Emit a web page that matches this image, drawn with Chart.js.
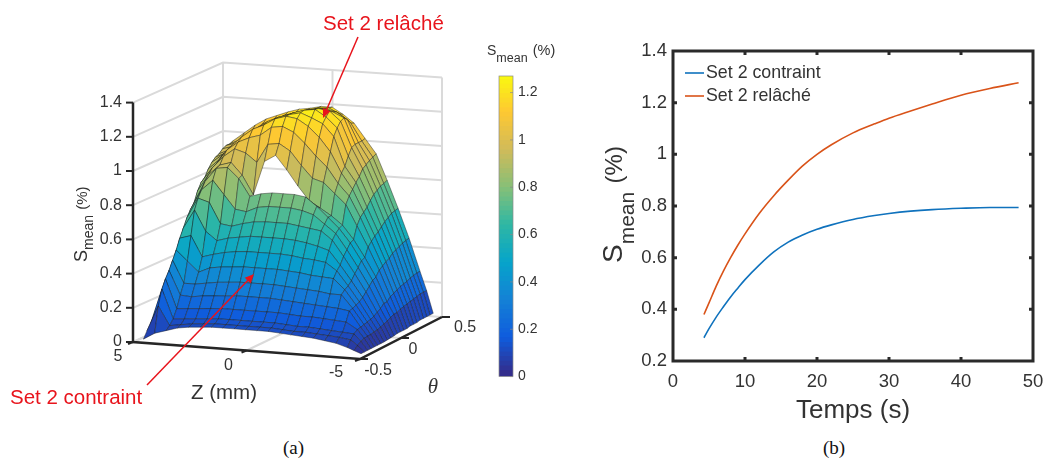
<!DOCTYPE html>
<html>
<head>
<meta charset="utf-8">
<script src="https://cdn.jsdelivr.net/npm/chart.js@4"></script>
<style>
  html, body { margin: 0; padding: 0; background: #fff; }
  #page { position: relative; width: 1048px; height: 462px; overflow: hidden; }
  canvas { position: absolute; }
  .cap { position: absolute; top: 437px; font: 19px "Liberation Serif", serif; color: #111; }
</style>
</head>
<body>
<div id="page">
  <canvas id="surfaceChart" width="490" height="430" style="left:0;top:0"></canvas>
  <canvas id="colorbarChart" width="90" height="354" style="left:480px;top:36px"></canvas>
  <canvas id="lineChart" width="458" height="400" style="left:590px;top:30px"></canvas>
  <div class="cap" style="left:283px">(a)</div>
  <div class="cap" style="left:823px">(b)</div>
</div>
<script>
const FONT = '"Liberation Sans", Arial, sans-serif';
const INK = "#333";

// panel (b)
const times = [4.3, 5, 6, 7, 8, 9, 10, 12, 14, 16, 18, 20, 22, 25, 28, 30, 33, 36, 40, 44, 48];
const contraint = [0.29, 0.325, 0.37, 0.41, 0.448, 0.482, 0.515, 0.572, 0.622, 0.66, 0.688, 0.71, 0.727, 0.748, 0.763, 0.771, 0.78, 0.786, 0.791, 0.794, 0.794];
const relache = [0.38, 0.425, 0.49, 0.548, 0.6, 0.648, 0.692, 0.772, 0.84, 0.9, 0.955, 1.0, 1.037, 1.083, 1.118, 1.14, 1.168, 1.195, 1.229, 1.255, 1.277];
const xTicksB = [0, 10, 20, 30, 40, 50];
const yTicksB = [0.2, 0.4, 0.6, 0.8, 1, 1.2, 1.4];

// panel (a)
const zValues = [4.7, 4.2, 3.7, 3.2, 2.7, 2.2, 1.7, 1.2, 0.7, 0.2, -0.3, -0.8, -1.3, -1.8, -2.3, -2.8, -3.3, -3.8, -4.3, -4.6, -4.9];
const thetaValues = [-0.46, -0.42, -0.38, -0.34, -0.3, -0.26, -0.22, -0.18, -0.14, -0.1, -0.06, -0.02, 0.02, 0.06, 0.1, 0.14, 0.18, 0.22, 0.26, 0.3, 0.34, 0.38, 0.42];
const surfaceS = [
  [.01,.05,.07,.09,.10,.105,.11,.11,.11,.11,.11,.11,.105,.10,.095,.09,.08,.07,.05,.035,.02],
  [.05,.20,.09,.10,.11,.115,.12,.12,.12,.12,.12,.12,.115,.11,.11,.105,.10,.095,.085,.055,.02],
  [.08,.29,.12,.125,.13,.135,.14,.14,.14,.14,.14,.14,.135,.13,.13,.125,.12,.115,.11,.07,.02],
  [.12,.34,.17,.175,.18,.185,.19,.19,.19,.19,.19,.19,.185,.18,.18,.175,.17,.165,.126,.077,.02],
  [.16,.38,.24,.235,.245,.25,.255,.26,.26,.26,.26,.255,.25,.245,.24,.235,.23,.22,.13,.08,.02],
  [.20,.43,.30,.30,.31,.32,.325,.33,.33,.33,.33,.325,.32,.315,.31,.30,.30,.225,.135,.08,.02],
  [.23,.48,.42,.36,.39,.40,.405,.41,.41,.41,.41,.405,.40,.39,.385,.38,.32,.235,.14,.085,.02],
  [.26,.54,.56,.44,.46,.475,.485,.49,.49,.49,.49,.485,.475,.47,.46,.415,.333,.244,.146,.088,.02],
  [.29,.59,.70,.58,.53,.55,.56,.57,.57,.57,.57,.565,.555,.54,.52,.44,.352,.259,.154,.094,.022],
  [.31,.64,.76,.74,.62,.61,.63,.645,.65,.65,.65,.64,.63,.62,.57,.48,.384,.282,.168,.102,.024],
  [.33,.68,.80,.86,.78,.70,.69,.72,.73,.73,.73,.72,.70,.65,.60,.51,.41,.305,.18,.11,.026],
  [.35,.71,.84,.92,.93,.87,.77,.79,.80,.80,.80,.79,.74,.68,.62,.54,.44,.33,.20,.12,.03],
  [.37,.77,.87,.93,.95,.88,.77,.97,1.01,.93,.84,.76,.72,.68,.63,.55,.45,.34,.20,.13,.03],
  [.38,.81,.90,.97,1.02,1.0,.95,1.06,1.07,1.03,.95,.88,.86,.80,.74,.62,.50,.37,.22,.13,.03],
  [.39,.83,.91,1.0,1.05,1.08,1.10,1.15,1.16,1.13,1.07,1.0,.94,.85,.78,.66,.525,.385,.23,.14,.03],
  [.40,.87,.93,1.01,1.07,1.12,1.15,1.19,1.21,1.20,1.16,1.10,1.02,.90,.81,.68,.545,.40,.24,.145,.035],
  [.41,.90,.95,1.01,1.06,1.11,1.16,1.19,1.21,1.225,1.20,1.17,1.10,.93,.84,.70,.56,.41,.25,.15,.035],
  [.43,.92,.95,1.0,1.05,1.10,1.15,1.18,1.21,1.23,1.24,1.20,1.14,.98,.865,.73,.58,.43,.255,.155,.035],
  [.44,.93,.96,1.01,1.06,1.11,1.15,1.18,1.20,1.22,1.235,1.225,1.17,1.02,.90,.755,.60,.44,.26,.16,.04],
  [.45,.95,.97,1.02,1.07,1.11,1.15,1.17,1.19,1.215,1.225,1.21,1.18,1.03,.915,.77,.615,.45,.27,.165,.04],
  [.46,.96,.98,1.03,1.07,1.11,1.145,1.17,1.19,1.205,1.215,1.20,1.16,1.03,.93,.785,.63,.46,.275,.17,.04],
  [.47,.96,.99,1.04,1.09,1.12,1.15,1.17,1.19,1.205,1.21,1.18,1.13,1.03,.94,.79,.635,.465,.28,.17,.04],
  [.48,.97,1.02,1.07,1.11,1.135,1.16,1.18,1.19,1.205,1.205,1.167,1.12,1.035,.95,.80,.64,.47,.28,.17,.04]
];
// the surface has a gap between these two rows, over these columns
const gapRow = 11;
const gapCols = [6, 7, 8, 9, 10];
const sTicks = [0, 0.2, 0.4, 0.6, 0.8, 1, 1.2, 1.4];
const sTickLabels = ["0", "0.2", "0.4", "0.6", "0.8", "1", "1.2", "1.4"];

// colour bar
const sMax = 1.27;
const cbTicks = [0, 0.2, 0.4, 0.6, 0.8, 1, 1.2];
const parula = ["#352a87", "#0f5cdd", "#1481d6", "#06a4ca", "#2eb7a4", "#87bf77", "#d1bb59", "#fec832", "#f9fb0e"];

function hexToRgb(h) {
  return [1, 3, 5].map(i => parseInt(h.substr(i, 2), 16));
}

function colorFor(s) {
  let t = Math.max(0, Math.min(1, s / sMax)) * (parula.length - 1);
  let i = Math.min(Math.floor(t), parula.length - 2);
  let a = hexToRgb(parula[i]), b = hexToRgb(parula[i + 1]);
  let f = t - i;
  return "rgb(" + a.map((v, k) => Math.round(v + (b[k] - v) * f)).join(",") + ")";
}

// view of the 3D box: floor corners and height of one S unit, in canvas units
const box = { fl: [133, 342], fr: [360, 359], br: [442, 317], bl: [223, 302], sUnit: 171 };

function project(z, theta, s) {
  let u = (5 - z) / 10, v = theta + 0.5;
  let x0 = box.fl[0] + (box.bl[0] - box.fl[0]) * v, y0 = box.fl[1] + (box.bl[1] - box.fl[1]) * v;
  let x1 = box.fr[0] + (box.br[0] - box.fr[0]) * v, y1 = box.fr[1] + (box.br[1] - box.fr[1]) * v;
  return { x: x0 + (x1 - x0) * u, y: y0 + (y1 - y0) * u - box.sUnit * s };
}

function lineSet(points, color, width) {
  return { data: points, showLine: true, borderColor: color, borderWidth: width, pointRadius: 0, fill: false, clip: false };
}

function buildSurfaceDatasets() {
  let sets = [];
  // axes on top
  sets.push(lineSet([project(5, -0.5, 1.4), project(5, -0.5, 0), project(-5, -0.5, 0), project(-5, 0.5, 0)], "#262626", 2.5));
  // first dataset is drawn last, so cells go from the front row to the back row
  for (let j = 0; j < thetaValues.length - 1; j++) {
    for (let i = zValues.length - 2; i >= 0; i--) {
      if (j === gapRow && gapCols.includes(i)) continue;
      let s = [surfaceS[j][i], surfaceS[j][i + 1], surfaceS[j + 1][i + 1], surfaceS[j + 1][i]];
      let pts = [
        project(zValues[i], thetaValues[j], s[0]),
        project(zValues[i + 1], thetaValues[j], s[1]),
        project(zValues[i + 1], thetaValues[j + 1], s[2]),
        project(zValues[i], thetaValues[j + 1], s[3])
      ];
      pts.push(pts[0]);
      sets.push({
        data: pts, showLine: true, fill: "shape", pointRadius: 0, clip: false,
        backgroundColor: colorFor((s[0] + s[1] + s[2] + s[3]) / 4),
        borderColor: "rgba(25,25,25,0.62)", borderWidth: 0.7
      });
    }
  }
  // grey box grid behind everything
  const grid = "#dadada";
  sTicks.forEach(s => {
    sets.push(lineSet([project(5, -0.5, s), project(5, 0.5, s), project(-5, 0.5, s)], grid, 2));
  });
  [5, 0, -5].forEach(z => {
    sets.push(lineSet([project(z, 0.5, 0), project(z, 0.5, 1.4)], grid, 2));
    sets.push(lineSet([project(z, -0.5, 0), project(z, 0.5, 0)], grid, 2));
  });
  sets.push(lineSet([project(5, 0, 0), project(-5, 0, 0)], grid, 2));
  return sets;
}

function drawArrow(ctx, x0, y0, x1, y1) {
  let a = Math.atan2(y1 - y0, x1 - x0);
  ctx.strokeStyle = "#e8141c";
  ctx.fillStyle = "#e8141c";
  ctx.lineWidth = 1.5;
  ctx.beginPath();
  ctx.moveTo(x0, y0);
  ctx.lineTo(x1 - 6 * Math.cos(a), y1 - 6 * Math.sin(a));
  ctx.stroke();
  ctx.beginPath();
  ctx.moveTo(x1, y1);
  ctx.lineTo(x1 - 10 * Math.cos(a - 0.42), y1 - 10 * Math.sin(a - 0.42));
  ctx.lineTo(x1 - 10 * Math.cos(a + 0.42), y1 - 10 * Math.sin(a + 0.42));
  ctx.closePath();
  ctx.fill();
}

// S with "mean" as subscript, then (%), along the current x direction
function drawSmean(ctx, x, y, sizes, drop, color) {
  ctx.fillStyle = color;
  ctx.textAlign = "left";
  ctx.textBaseline = "alphabetic";
  ctx.font = sizes[0] + "px " + FONT;
  ctx.fillText("S", x, y);
  x += ctx.measureText("S").width;
  ctx.font = sizes[1] + "px " + FONT;
  ctx.fillText("mean", x, y + drop);
  x += ctx.measureText("mean").width + sizes[2] * 0.35;
  ctx.font = sizes[2] + "px " + FONT;
  ctx.fillText("(%)", x, y);
}

const surfaceLabels = {
  id: "surfaceLabels",
  afterDatasetsDraw(chart) {
    const ctx = chart.ctx;
    ctx.save();
    ctx.fillStyle = INK;
    ctx.strokeStyle = "#262626";
    ctx.lineWidth = 2;
    ctx.font = "16px " + FONT;
    ctx.textBaseline = "middle";
    ctx.textAlign = "right";
    sTicks.forEach((s, i) => {
      let p = project(5, -0.5, s);
      ctx.beginPath();
      ctx.moveTo(p.x - 7, p.y);
      ctx.lineTo(p.x, p.y);
      ctx.stroke();
      ctx.fillText(sTickLabels[i], p.x - 11, p.y);
    });
    ctx.textAlign = "center";
    [[5, "5", -15, 15], [0, "0", -18, 15], [-5, "-5", -24, 14]].forEach(t => {
      let p = project(t[0], -0.5, 0);
      ctx.fillText(t[1], p.x + t[2], p.y + t[3]);
      ctx.beginPath();
      ctx.moveTo(p.x, p.y);
      ctx.lineTo(p.x - 5, p.y + 2);
      ctx.stroke();
    });
    [[-0.5, "-0.5", 18, 12], [0, "0", 12, 12], [0.5, "0.5", 23, 11]].forEach(t => {
      let p = project(-5, t[0], 0);
      ctx.fillText(t[1], p.x + t[2], p.y + t[3]);
      ctx.beginPath();
      ctx.moveTo(p.x, p.y);
      ctx.lineTo(p.x + 8, p.y);
      ctx.stroke();
    });
    ctx.font = "20.5px " + FONT;
    ctx.fillText("Z (mm)", 224, 393);
    ctx.font = "italic 21px \"Liberation Serif\", serif";
    ctx.fillText("\u03b8", 433, 387);
    ctx.save();
    ctx.translate(87, 262);
    ctx.rotate(-Math.PI / 2);
    drawSmean(ctx, 0, 0, [18, 14, 15], 6, INK);
    ctx.restore();
    drawArrow(ctx, 358, 37, 323, 118);
    drawArrow(ctx, 147, 385, 254, 274);
    ctx.fillStyle = "#e8141c";
    ctx.font = "20.5px " + FONT;
    ctx.textAlign = "left";
    ctx.textBaseline = "middle";
    ctx.fillText("Set 2 rel\u00e2ch\u00e9", 323, 24);
    ctx.fillText("Set 2 contraint", 10, 398);
    ctx.restore();
  }
};

new Chart(document.getElementById("surfaceChart"), {
  type: "scatter",
  data: { datasets: buildSurfaceDatasets() },
  options: {
    responsive: false,
    animation: false,
    events: [],
    layout: { padding: 0 },
    plugins: { legend: { display: false }, tooltip: { enabled: false } },
    scales: {
      x: { type: "linear", min: 0, max: 490, display: false },
      y: { type: "linear", min: 0, max: 430, reverse: true, display: false }
    }
  },
  plugins: [surfaceLabels]
});

// colour bar, one floating bar per colour step
function buildColorbar() {
  const steps = 64;
  let sets = [];
  for (let k = 0; k < steps; k++) {
    let lo = sMax * k / steps, hi = sMax * (k + 1.3) / steps;
    sets.push({
      data: [[lo, Math.min(hi, sMax)]], backgroundColor: colorFor(sMax * (k + 0.5) / steps),
      grouped: false, barPercentage: 1, categoryPercentage: 1, borderWidth: 0
    });
  }
  return sets;
}

const colorbarDecor = {
  id: "colorbarDecor",
  afterDraw(chart) {
    const ctx = chart.ctx, a = chart.chartArea, y = chart.scales.y;
    ctx.save();
    ctx.strokeStyle = "#8a8a8a";
    ctx.lineWidth = 0.7;
    ctx.strokeRect(a.left, a.top, a.right - a.left, a.bottom - a.top);
    cbTicks.forEach(t => {
      let py = y.getPixelForValue(t);
      ctx.beginPath();
      ctx.moveTo(a.right - 3, py);
      ctx.lineTo(a.right, py);
      ctx.stroke();
    });
    drawSmean(ctx, 7, 19, [14, 12.5, 14.5], 7, INK);
    ctx.restore();
  }
};

new Chart(document.getElementById("colorbarChart"), {
  type: "bar",
  data: { labels: ["S"], datasets: buildColorbar() },
  options: {
    responsive: false,
    animation: false,
    events: [],
    layout: { padding: { left: 19, top: 40, bottom: 13, right: 0 } },
    plugins: { legend: { display: false }, tooltip: { enabled: false } },
    scales: {
      x: { display: false },
      y: {
        position: "right", min: 0, max: sMax,
        afterBuildTicks: s => { s.ticks = cbTicks.map(v => ({ value: v })); },
        afterFit: s => { s.width = 57; },
        grid: { display: false, drawTicks: false },
        border: { display: false },
        ticks: { color: INK, font: { family: FONT, size: 14 }, padding: 5, callback: v => String(v) }
      }
    }
  },
  plugins: [colorbarDecor]
});

const frameB = {
  id: "frameB",
  afterDatasetsDraw(chart) {
    const ctx = chart.ctx, a = chart.chartArea, sx = chart.scales.x, sy = chart.scales.y;
    ctx.save();
    ctx.strokeStyle = "#2a2a2a";
    ctx.lineWidth = 3;
    ctx.strokeRect(a.left, a.top, a.right - a.left, a.bottom - a.top);
    xTicksB.slice(1, -1).forEach(t => {
      let px = sx.getPixelForValue(t);
      ctx.beginPath();
      ctx.moveTo(px, a.bottom); ctx.lineTo(px, a.bottom - 4);
      ctx.moveTo(px, a.top); ctx.lineTo(px, a.top + 4);
      ctx.stroke();
    });
    yTicksB.slice(1, -1).forEach(t => {
      let py = sy.getPixelForValue(t);
      ctx.beginPath();
      ctx.moveTo(a.left, py); ctx.lineTo(a.left + 4, py);
      ctx.moveTo(a.right, py); ctx.lineTo(a.right - 4, py);
      ctx.stroke();
    });
    // legend inside the axes, top left
    ctx.font = "17.8px " + FONT;
    ctx.textAlign = "left";
    ctx.textBaseline = "middle";
    chart.data.datasets.forEach((d, i) => {
      let y = 43 + i * 23;
      ctx.strokeStyle = d.borderColor;
      ctx.lineWidth = 1.6;
      ctx.beginPath();
      ctx.moveTo(95, y);
      ctx.lineTo(114, y);
      ctx.stroke();
      ctx.fillStyle = INK;
      ctx.fillText(d.label, 116, y);
    });
    ctx.translate(32, 233);
    ctx.rotate(-Math.PI / 2);
    drawSmean(ctx, 0, 0, [28, 21, 24], 12, INK);
    ctx.restore();
  }
};

new Chart(document.getElementById("lineChart"), {
  type: "line",
  data: {
    datasets: [
      { label: "Set 2 contraint", data: times.map((t, i) => ({ x: t, y: contraint[i] })), borderColor: "#0f72bd", borderWidth: 1.6, pointRadius: 0, cubicInterpolationMode: "monotone" },
      { label: "Set 2 rel\u00e2ch\u00e9", data: times.map((t, i) => ({ x: t, y: relache[i] })), borderColor: "#d95319", borderWidth: 1.6, pointRadius: 0, cubicInterpolationMode: "monotone" }
    ]
  },
  options: {
    responsive: false,
    animation: false,
    events: [],
    layout: { padding: { left: 0, top: 21, right: 15, bottom: 0 } },
    plugins: { tooltip: { enabled: false }, legend: { display: false } },
    scales: {
      x: {
        type: "linear", min: 0, max: 50,
        afterBuildTicks: s => { s.ticks = xTicksB.map(v => ({ value: v })); },
        afterFit: s => { s.height = 69; s.paddingLeft = 0; s.paddingRight = 0; },
        grid: { display: false, drawTicks: false },
        border: { display: false },
        ticks: { color: INK, font: { family: FONT, size: 18.5 }, padding: 10, maxRotation: 0, callback: v => String(v) },
        title: { display: true, text: "Temps (s)", color: INK, font: { family: FONT, size: 26 }, padding: { top: 1 } }
      },
      y: {
        min: 0.2, max: 1.4,
        afterBuildTicks: s => { s.ticks = yTicksB.map(v => ({ value: v })); },
        afterFit: s => { s.width = 83; },
        grid: { display: false, drawTicks: false },
        border: { display: false },
        ticks: { color: INK, font: { family: FONT, size: 18.5 }, padding: 6, callback: v => String(v) }
      }
    }
  },
  plugins: [frameB]
});
</script>
</body>
</html>
